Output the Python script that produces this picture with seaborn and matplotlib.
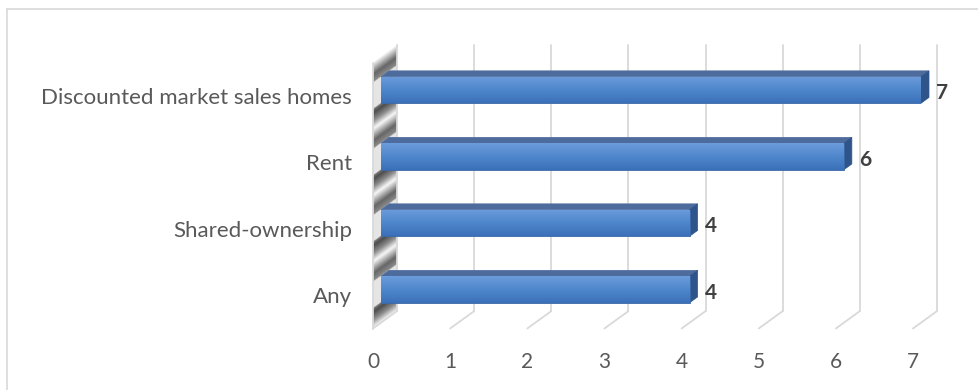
import numpy as np
import pandas as pd
import matplotlib
matplotlib.use("Agg")
import matplotlib.pyplot as plt
import seaborn as sns
from matplotlib.patches import Polygon
from matplotlib.transforms import ScaledTranslation

# ---- data -------------------------------------------------------------
categories = ["Discounted market sales homes", "Rent", "Shared-ownership", "Any"]
counts = [7, 6, 4, 4]
x_ticks = [0, 1, 2, 3, 4, 5, 6, 7]

# ---- figure geometry ---------------------------------------------------
W, H, DPI = 979, 390, 100
DX, DY = 8.0, 5.8          # one third of the chart depth, in pixels
GRID = "#d9d9d9"
TEXT = "#595959"

sns.set_theme(style="white")
plt.rcParams["font.family"] = ["Lato", "DejaVu Sans"]

fig = plt.figure(figsize=(W / DPI, H / DPI), dpi=DPI)
fig.patch.set_facecolor("white")

# pixel-space layer for walls, floor and the 3-D faces of the bars
bg = fig.add_axes([0, 0, 1, 1], zorder=0)
bg.set_xlim(0, W)
bg.set_ylim(0, H)
bg.axis("off")

# plot area (front faces of the bars)
ax = fig.add_axes([381 / W, (H - 322.7) / H, 540 / W, 266 / H], zorder=1)
ax.patch.set_visible(False)

df = pd.DataFrame({"category": categories, "count": counts})
sns.barplot(data=df, x="count", y="category", orient="h", width=0.4,
            color="#4a7fc4", saturation=1, edgecolor="#3a68aa", linewidth=0.6,
            ax=ax)
ax.set_xlim(x_ticks[0], x_ticks[-1])
ax.set_ylim(len(categories) - 0.5, -0.5)
sns.despine(ax=ax, left=True, bottom=True)
ax.set_xlabel("")
ax.set_ylabel("")
ax.grid(False)


def px(x, y):
    return ax.transData.transform((x, y))


# chart border (top and left edges)
bg.plot([7, W], [H - 8.5, H - 8.5], color=GRID, lw=1.2, solid_capstyle="butt")
bg.plot([7.5, 7.5], [0, H - 8], color=GRID, lw=1.2, solid_capstyle="butt")

y_floor = px(0, len(categories) - 0.5)[1]
y_top = px(0, -0.5)[1]
x_zero = px(0, 0)[0]

# ---- back wall gridlines and floor lines --------------------------------
for v in x_ticks:
    xv = px(v, 0)[0]
    bg.plot([xv + 2 * DX, xv + 2 * DX], [y_floor + 2 * DY, y_top + 2 * DY],
            color=GRID, lw=1.3, zorder=1)
    bg.plot([xv - DX, xv + 2 * DX], [y_floor - DY, y_floor + 2 * DY],
            color=GRID, lw=1.3, zorder=1)

# ---- side wall at zero with shading ---------------------------------------
xf, xb = x_zero - DX, x_zero + 2 * DX
wall = Polygon([(xf, y_floor - DY), (xf, y_top - DY),
                (xb, y_top + 2 * DY), (xb, y_floor + 2 * DY)],
               closed=True, facecolor="none", edgecolor="none")
bg.add_patch(wall)

bars = list(ax.patches)
bar_px = []
for p in bars:
    bb = p.get_bbox()
    (X0, Ya), (X1, Yb) = px(bb.x0, bb.y0), px(bb.x1, bb.y1)
    bar_px.append((X0, X1, min(Ya, Yb), max(Ya, Yb)))

# bar extents on the front plane, top to bottom
spans = sorted([(yb - DY, yt - DY) for _, _, yb, yt in bar_px], key=lambda s: -s[1])
gaps = [spans[i][0] - spans[i + 1][1] for i in range(len(spans) - 1)]
gap = float(np.mean(gaps))
uppers = [spans[0][1] + gap] + [s[0] for s in spans]
lowers = [s[1] for s in spans] + [spans[-1][0] - gap]

ys = np.arange(y_floor - DY - 2, y_top + 2 * DY + 2, 0.5)
xs = np.arange(xf - 1, xb + 1, 0.5)
XX, YY = np.meshgrid(xs, ys)
depth = np.clip((XX - xf) / (3 * DX), 0, 1)
hh = YY - 3 * DY * depth
shade = np.full(hh.shape, 0.9)
for u, l in zip(uppers, lowers):
    m = (hh <= u) & (hh >= l)
    t = (u - hh[m]) / (u - l)
    shade[m] = np.interp(t, [0, 0.1, 0.3, 0.5, 0.8, 1.0],
                         [0.5, 0.3, 0.55, 0.97, 0.4, 0.55])
img = np.dstack([shade, shade, shade])
im = bg.imshow(img, extent=[xs[0], xs[-1], ys[0], ys[-1]], origin="lower",
               aspect="auto", interpolation="bilinear", zorder=0.5)
im.set_clip_path(wall)
bg.plot([xf, xf], [y_floor - DY, y_top - DY], color=GRID, lw=1.3, zorder=1)
bg.set_xlim(0, W)
bg.set_ylim(0, H)

# ---- 3-D faces of the bars ------------------------------------------------
grad = np.linspace(0, 1, 64)[:, None]
front_cols = np.array([[0.42, 0.61, 0.86], [0.31, 0.53, 0.80], [0.23, 0.44, 0.72]])
rows = np.array([np.interp(grad[:, 0], [0, 0.5, 1], front_cols[:, k]) for k in range(3)]).T
front_img = rows[:, None, :]
for p, (X0, X1, Yb, Yt) in zip(bars, bar_px):
    bb = p.get_bbox()
    gi = ax.imshow(front_img, extent=[bb.x0, bb.x1, bb.y1, bb.y0], origin="upper",
                   aspect="auto", interpolation="bilinear", zorder=p.get_zorder() + 0.1)
    gi.set_clip_path(p)
    bg.add_patch(Polygon([(X0, Yt), (X1, Yt), (X1 + DX, Yt + DY), (X0 + DX, Yt + DY)],
                         closed=True, facecolor="#4d6c9d", edgecolor="#4d6c9d",
                         lw=0.5, zorder=3))
    bg.add_patch(Polygon([(X1, Yt), (X1 + DX, Yt + DY), (X1 + DX, Yb + DY), (X1, Yb)],
                         closed=True, facecolor="#2f5489", edgecolor="#2f5489",
                         lw=0.5, zorder=3))
ax.set_xlim(x_ticks[0], x_ticks[-1])
ax.set_ylim(len(categories) - 0.5, -0.5)

# ---- value labels -----------------------------------------------------------
value_texts = ax.bar_label(ax.containers[0], labels=[f"{v:d}" for v in counts],
                           padding=11, fontsize=15, fontweight="bold",
                           color="#404040", clip_on=False)
for t in value_texts:
    ox, oy = t.xyann
    t.xyann = (ox, oy - 2.4)

# ---- tick labels sit on the front plane ----------------------------------
ax.set_xticks(x_ticks)
ax.set_xticklabels([str(t) for t in x_ticks])
ax.tick_params(axis="x", length=0, pad=17, labelsize=15, labelcolor=TEXT)
ax.tick_params(axis="y", length=0, pad=15, labelsize=16, labelcolor=TEXT)
shift = ScaledTranslation(-DX / DPI, -DY / DPI, fig.dpi_scale_trans)
for lab in ax.get_xticklabels() + ax.get_yticklabels():
    lab.set_transform(lab.get_transform() + shift)

fig.savefig("out.png", dpi=DPI, facecolor="white")
